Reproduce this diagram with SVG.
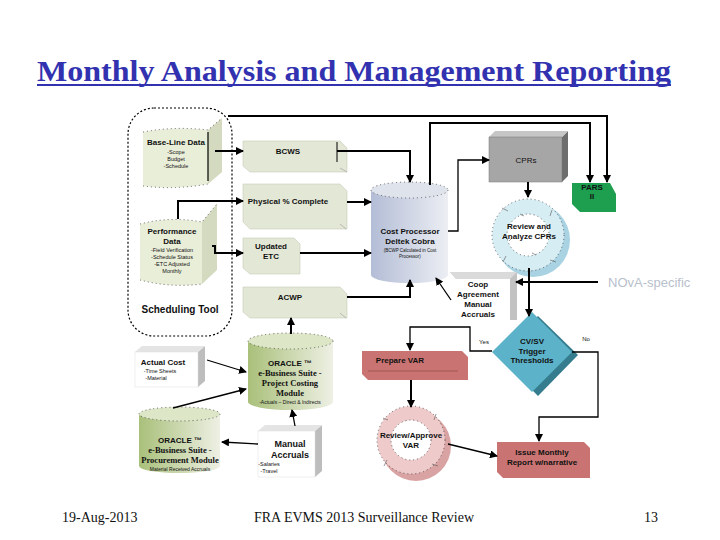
<svg xmlns="http://www.w3.org/2000/svg" width="720" height="540" viewBox="0 0 720 540">
<defs>
<marker id="ah" markerWidth="8" markerHeight="8" refX="7" refY="4" orient="auto" markerUnits="userSpaceOnUse">
<path d="M0,0 L8,4 L0,8 z" fill="#000"/>
</marker>
<linearGradient id="gBlue" x1="0" y1="0" x2="1" y2="0">
<stop offset="0" stop-color="#b3bdd6"/><stop offset="1" stop-color="#eceef3"/>
</linearGradient>
<linearGradient id="gGreen" x1="0" y1="0" x2="1" y2="0">
<stop offset="0" stop-color="#a9c07a"/><stop offset="1" stop-color="#eef0e4"/>
</linearGradient>
<style>
.t{font-family:"Liberation Sans",Arial,sans-serif;fill:#111;text-anchor:middle}
.b{font-weight:bold;font-size:8px}
.s{font-size:5.5px}
.sr{font-family:"Liberation Serif","Times New Roman",serif;font-weight:bold;font-size:8.5px;fill:#111;text-anchor:middle}
.box{fill:#e3e7d6;stroke:#c8ccb8;stroke-width:0.6}
.dot{fill:none;stroke:#444;stroke-width:0.8;stroke-dasharray:1 3}
.c{fill:none;stroke:#000;stroke-width:2}
.cn{fill:none;stroke:#000;stroke-width:1.3}
.foot{font-family:"Liberation Serif","Times New Roman",serif;font-size:14px;fill:#111}
</style>
</defs>
<rect width="720" height="540" fill="#fff"/>

<g id="title">
<text x="37" y="81" font-family="Liberation Serif,'Times New Roman',serif" font-weight="bold" font-size="29" fill="#3232b0" textLength="634" lengthAdjust="spacingAndGlyphs">Monthly Analysis and Management Reporting</text>
<rect x="37" y="84" width="634" height="2" fill="#3232b0"/>
</g>

<g id="scheduling-tool">
<rect x="128" y="108" width="104" height="228" rx="26" fill="none" stroke="#000" stroke-width="1.2" stroke-dasharray="2 2"/>
<text class="t" x="180" y="313" font-size="10" font-weight="bold">Scheduling Tool</text>
</g>

<g id="baseline-data">
<path d="M208,130 L222,118 L222,172 L208,184 Z" fill="#d3dabf"/>
<path d="M143,132 Q175,126 208,130 L208,184 Q175,190 143,186 Z" fill="#e9eed9"/>
<path d="M143,132 Q175,126 208,130 L222,118 M143,186 Q175,190 208,184" class="dot"/>
<line x1="208" y1="132" x2="208" y2="181" stroke="#000" stroke-width="1.2"/>
<text class="t b" x="176" y="145">Base-Line Data</text>
<text class="t s" x="176" y="154">-Scope</text>
<text class="t s" x="176" y="161">Budget</text>
<text class="t s" x="176" y="168">-Schedule</text>
</g>

<g id="performance-data">
<path d="M202,222 L217,204 L217,270 L202,284 Z" fill="#d3dabf"/>
<path d="M140,224 Q170,216 202,222 L202,284 Q170,288 140,280 Z" fill="#e9eed9"/>
<path d="M140,224 Q170,216 202,222 L217,204 M140,280 Q170,288 202,284" class="dot"/>
<text class="t b" x="172" y="234">Performance</text>
<text class="t b" x="172" y="244">Data</text>
<text class="t s" x="172" y="252">-Field Verification</text>
<text class="t s" x="172" y="259">-Schedule Status</text>
<text class="t s" x="172" y="266">-ETC Adjusted</text>
<text class="t s" x="172" y="273">Monthly</text>
</g>

<g id="bcws">
<path d="M243,141 L340,141 L347,148 L347,172 L250,172 L243,166 Z" class="box"/>
<line x1="340" y1="168" x2="347" y2="172" stroke="#999" stroke-width="0.6"/>
<text class="t b" x="288" y="154">BCWS</text>
</g>

<g id="physical-complete">
<path d="M243,184 L340,184 L347,191 L347,229 L250,229 L243,222 Z" class="box"/>
<line x1="340" y1="224" x2="346" y2="229" stroke="#999" stroke-width="0.6"/>
<text class="t b" x="288" y="204">Physical % Complete</text>
</g>

<g id="updated-etc">
<path d="M243,238 L294,238 L300,244 L300,274 L250,274 L243,268 Z" class="box"/>
<text class="t b" x="271" y="249">Updated</text>
<text class="t b" x="271" y="259">ETC</text>
</g>

<g id="acwp">
<path d="M243,287 L340,287 L347,294 L347,318 L250,318 L243,312 Z" class="box"/>
<line x1="340" y1="313" x2="346" y2="318" stroke="#999" stroke-width="0.6"/>
<text class="t b" x="290" y="300">ACWP</text>
</g>

<g id="cost-processor">
<path d="M371,190 L371,275 A38.5,8 0 0 0 448,275 L448,190 Z" fill="url(#gBlue)"/>
<ellipse cx="409.5" cy="190" rx="38.5" ry="8" fill="#dfe3ec"/>
<ellipse cx="409.5" cy="190" rx="38.5" ry="8" class="dot"/>
<text class="t b" x="410" y="234">Cost Processor</text>
<text class="t b" x="410" y="244">Deltek Cobra</text>
<text class="t" x="410" y="252" font-size="4.5">(BCWP Calculated in Cost</text>
<text class="t" x="410" y="258" font-size="4.5">Processor)</text>
</g>

<g id="cprs">
<path d="M562,137 L568,131 L568,176 L562,182 Z" fill="#6d6d6d"/>
<path d="M489,137 L495,131 L568,131 L562,137 Z" fill="#c6c6c6"/>
<rect x="489" y="137" width="73" height="45" fill="#a6a6a6" stroke="#7a7a7a" stroke-width="0.5"/>
<text class="t" x="526" y="163" font-size="8" fill="#333">CPRs</text>
</g>

<g id="pars-ii">
<path d="M572,183 L610,183 L616,194 L616,212 L580,212 L572,204 Z" fill="#1d9f4f"/>
<text class="t b" x="592" y="190" fill="#222">PARS</text>
<text class="t b" x="592" y="199" fill="#222">II</text>
</g>

<g id="review-cprs">
<circle cx="533" cy="240" r="37" fill="#a9d3e2"/>
<circle cx="528" cy="235" r="36" fill="#d7edf4"/>
<circle cx="528" cy="235" r="36" class="dot"/>
<circle cx="528" cy="235" r="21" fill="#fff"/>
<circle cx="528" cy="235" r="21" class="dot"/>
<path d="M502,208 l6,3 M552,210 l-2,6 M556,262 l-6,-2 M503,262 l3,-6 M520,214 l4,2 M546,229 l-3,3 M536,255 l-4,-2 M509,241 l3,-3" stroke="#555" stroke-width="0.6"/>
<text class="t b" x="529" y="229">Review and</text>
<text class="t b" x="529" y="239">Analyze CPRs</text>
</g>

<g id="nova-specific">
<text x="608" y="287" font-family="Liberation Sans,Arial,sans-serif" font-size="13" fill="#b8c0cc">NOvA-specific</text>
</g>

<g id="coop-accruals">
<path d="M450,272 L517,272 L517,320 L510,320 L510,279 L456,279 Z" fill="#c2c2c2"/>
<path d="M450,272 L517,272 L510,279 L456,279 Z" fill="#dadada"/>
<text class="t b" x="478" y="287">Coop</text>
<text class="t b" x="478" y="297">Agreement</text>
<text class="t b" x="478" y="307">Manual</text>
<text class="t b" x="478" y="317">Accruals</text>
</g>

<g id="cvsv-thresholds">
<path d="M538,316 L578,355 L538,396 L498,355 Z" fill="#357c8e"/>
<path d="M532,312 L572,352 L532,392 L492,352 Z" fill="#5cb3c9"/>
<text class="t b" x="532" y="344">CV/SV</text>
<text class="t b" x="532" y="354">Trigger</text>
<text class="t b" x="532" y="363">Thresholds</text>
<text class="t" x="484" y="344" font-size="6">Yes</text>
<text class="t" x="586" y="341" font-size="6">No</text>
</g>

<g id="prepare-var">
<path d="M362,351 L462,351 L468,357 L468,380 L368,380 L362,374 Z" fill="#c97472"/>
<line x1="368" y1="371" x2="458" y2="371" stroke="#7a3a3a" stroke-width="0.5"/>
<text class="t b" x="400" y="363">Prepare VAR</text>
</g>

<g id="review-approve-var">
<circle cx="416" cy="446" r="35" fill="#d9a3a3"/>
<circle cx="411" cy="440" r="34" fill="#efcaca"/>
<circle cx="411" cy="440" r="34" class="dot"/>
<circle cx="411" cy="440" r="20" fill="#fff"/>
<circle cx="411" cy="440" r="20" class="dot"/>
<path d="M383,418 l5,2 M436,414 l-2,6 M438,466 l-6,-2 M384,466 l3,-6" stroke="#555" stroke-width="0.6"/>
<text class="t b" x="411" y="438">Review/Approve</text>
<text class="t b" x="411" y="448">VAR</text>
</g>

<g id="issue-report">
<path d="M497,442 L584,442 L590,448 L590,478 L503,478 L497,472 Z" fill="#c97472"/>
<text class="t b" x="542" y="455">Issue Monthly</text>
<text class="t b" x="542" y="465">Report w/narrative</text>
</g>

<g id="actual-cost">
<path d="M198,352 L205,346 L205,381 L198,387 Z" fill="#bdbdbd"/>
<path d="M135,352 L142,346 L205,346 L198,352 Z" fill="#e4e4e4"/>
<rect x="135" y="352" width="63" height="35" fill="#fff" stroke="#ddd" stroke-width="0.5"/>
<text class="t b" x="163" y="365">Actual Cost</text>
<text class="t s" x="160" y="373">-Time Sheets</text>
<text class="t s" x="156" y="380">-Material</text>
</g>

<g id="oracle-project-costing">
<path d="M248,341 L248,402 A42.5,8 0 0 0 333,402 L333,341 Z" fill="url(#gGreen)"/>
<ellipse cx="290.5" cy="341" rx="42.5" ry="8" fill="#dde6c6"/>
<ellipse cx="290.5" cy="341" rx="42.5" ry="8" class="dot"/>
<text class="t b" x="290" y="366">ORACLE ™</text>
<text class="sr" x="290" y="376">e-Business Suite -</text>
<text class="sr" x="290" y="386">Project Costing</text>
<text class="sr" x="290" y="396">Module</text>
<text class="t" x="290" y="404" font-size="5">-Actuals – Direct &amp; Indirects</text>
</g>

<g id="oracle-procurement">
<path d="M139,414 L139,466 A40.5,7 0 0 0 220,466 L220,414 Z" fill="url(#gGreen)"/>
<ellipse cx="179.5" cy="414" rx="40.5" ry="7" fill="#dde6c6"/>
<ellipse cx="179.5" cy="414" rx="40.5" ry="7" class="dot"/>
<text class="t b" x="180" y="443">ORACLE ™</text>
<text class="sr" x="180" y="453">e-Business Suite -</text>
<text class="sr" x="180" y="463">Procurement Module</text>
<text class="t" x="180" y="471" font-size="5">Material Received Accruals</text>
</g>

<g id="manual-accruals">
<path d="M315,431 L322,425 L322,471 L315,477 Z" fill="#bdbdbd"/>
<path d="M258,431 L265,425 L322,425 L315,431 Z" fill="#e4e4e4"/>
<rect x="258" y="431" width="57" height="46" fill="#fff" stroke="#ddd" stroke-width="0.5"/>
<text class="t" x="290" y="447" font-size="9" font-weight="bold">Manual</text>
<text class="t" x="290" y="458" font-size="9" font-weight="bold">Accruals</text>
<text class="t s" x="269" y="466">-Salaries</text>
<text class="t s" x="269" y="473">-Travel</text>
</g>

<g id="connectors">
<path class="c" d="M215,151 L243,151" marker-end="url(#ah)"/>
<path class="c" d="M178,219 L178,201 L243,201" marker-end="url(#ah)"/>
<path class="c" d="M212,246 L215,246 L215,253 L243,253" marker-end="url(#ah)"/>
<path class="c" d="M228,116 L607,116 L607,182" marker-end="url(#ah)"/>
<path class="c" d="M337,151 L410,151 L410,182" marker-end="url(#ah)"/>
<line x1="337" y1="142" x2="337" y2="162" stroke="#000" stroke-width="1"/>
<path class="c" d="M347,202 L371,202" marker-end="url(#ah)"/>
<path class="c" d="M300,253 L371,253" marker-end="url(#ah)"/>
<path class="c" d="M347,297 L410,297 L410,280" marker-end="url(#ah)"/>
<path class="c" d="M430,185 L430,123 L590,123 L590,182" marker-end="url(#ah)"/>
<path class="cn" d="M448,231 L458,231 L458,160 L489,160" marker-end="url(#ah)"/>
<path class="c" d="M528,182 L528,197" marker-end="url(#ah)"/>
<path class="c" d="M529,268 L529,316" marker-end="url(#ah)"/>
<path class="c" d="M598,282 L516,282" marker-end="url(#ah)"/>
<path class="cn" d="M451,300 L436,278" marker-end="url(#ah)"/>
<path class="cn" d="M492,351 L470,351 L470,327 L410,327 L410,350" marker-end="url(#ah)"/>
<path class="cn" d="M572,352 L598,352 L598,417 L539,417 L539,441" marker-end="url(#ah)"/>
<path class="c" d="M411,380 L411,407" marker-end="url(#ah)"/>
<path class="cn" d="M448,444 L497,456" marker-end="url(#ah)"/>
<path class="c" d="M291,334 L291,318" marker-end="url(#ah)"/>
<path class="cn" d="M207,360 L246,372" marker-end="url(#ah)"/>
<path class="cn" d="M173,408 L246,389" marker-end="url(#ah)"/>
<path class="cn" d="M295,426 L292,410" marker-end="url(#ah)"/>
<path class="cn" d="M258,444 L222,442" marker-end="url(#ah)"/>
</g>

<g id="footer">
<text class="foot" x="62" y="522">19-Aug-2013</text>
<text class="foot" x="364" y="522" text-anchor="middle">FRA EVMS 2013 Surveillance Review</text>
<text class="foot" x="644" y="522">13</text>
</g>
</svg>
